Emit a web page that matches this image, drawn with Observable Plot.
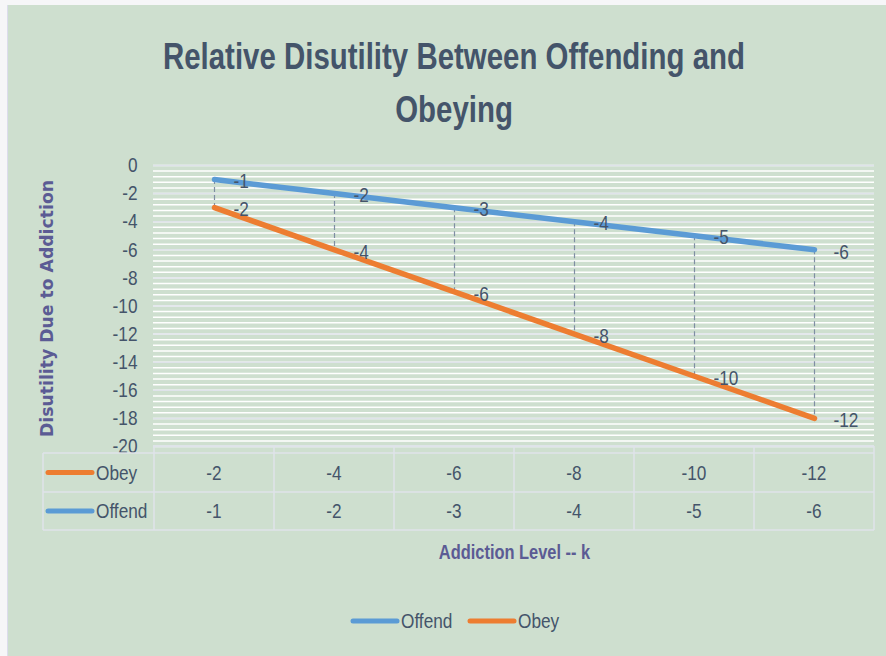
<!DOCTYPE html>
<html>
<head>
<meta charset="utf-8">
<script src="https://cdn.jsdelivr.net/npm/d3@7"></script>
<script src="https://cdn.jsdelivr.net/npm/@observablehq/plot@0.6"></script>
<style>
  html, body { margin: 0; padding: 0; background: #f6f6f8; width: 886px; height: 656px; overflow: hidden; }
  #bg { position: absolute; left: 7px; top: 5px; width: 879px; height: 651px; background: #cedfcf; border-left: 1px solid #dcdcec; box-sizing: border-box; }
  #title { position: absolute; left: 11px; top: 30px; width: 886px; text-align: center;
           font-family: "Liberation Sans Narrow", "Arial Narrow", "Liberation Sans", Arial, sans-serif;
           font-weight: bold; font-size: 37px; line-height: 53px; color: #44546a; }
  #title span { display: inline-block; white-space: nowrap; transform-origin: 50% 50%; }
  #chart { position: absolute; left: 0; top: 140px; }
</style>
</head>
<body>
<div id="bg"></div>
<div id="title"></div>
<div id="chart"></div>
<script>
const FONT = '"Liberation Sans", Arial, sans-serif';
const WIDEFONT = '"DejaVu Sans", Verdana, sans-serif';
const NARROW = 0.82;           // horizontal condensing of the Calibri-like text
const FS = 21;
const TEXT = "#44546a";
const AXISTITLE = "#5b5b94";
const GRIDLINE = "#dfe3ea";

// ---- data ----
const k = [1, 2, 3, 4, 5, 6];
const offend = [-1, -2, -3, -4, -5, -6];
const obey = [-2, -4, -6, -8, -10, -12];
const seriesNames = ["Offend", "Obey"];
const seriesColors = ["#5b9bd5", "#ed7d31"];
const yTicks = [0, -2, -4, -6, -8, -10, -12, -14, -16, -18, -20];
const yMinorStep = 0.4;
const titleLines = ["Relative Disutility Between Offending and", "Obeying"];
const yTitle = "Disutility Due to Addiction";
const xTitle = "Addiction Level -- k";

// ---- derived tables ----
const rows = k.map((c, i) => ({k: c, offend: offend[i], obey: obey[i]}));
const long = [
  ...k.map((c, i) => ({k: c, series: "Offend", value: offend[i]})),
  ...k.map((c, i) => ({k: c, series: "Obey", value: obey[i]}))
];
const yMinor = d3.range(0, Math.round(20 / yMinorStep) + 1).map(i => -i * yMinorStep);

// ---- title ----
const titleEl = document.getElementById("title");
titleLines.forEach((t, i) => {
  const s = document.createElement("span");
  s.textContent = t;
  titleEl.appendChild(s);
  if (i < titleLines.length - 1) titleEl.appendChild(document.createElement("br"));
});

// ---- table, axis titles and legend drawn from the x scale ----
function extras(index, scales, values, dim) {
  const x = scales.x, bw = x.bandwidth();
  const L = dim.marginLeft, R = dim.width - dim.marginRight;
  const yAx = dim.height - dim.marginBottom;
  const top = yAx + 7, mid = top + 39, bot = mid + 38;
  const x0 = 43;
  const g = d3.create("svg:g");
  const line = (x1, y1, x2, y2, c = GRIDLINE, w = 1.5) =>
    g.append("line").attr("x1", x1).attr("y1", y1).attr("x2", x2).attr("y2", y2)
      .attr("stroke", c).attr("stroke-width", w);
  line(L, yAx, R, yAx);
  [top, mid, bot].forEach(y => line(x0, y, R, y));
  line(x0, top, x0, bot);
  k.forEach(c => line(x(c), yAx, x(c), bot));
  line(R, yAx, R, bot);

  const tableRows = [
    {name: seriesNames[1], vals: obey, color: seriesColors[1], y: (top + mid) / 2},
    {name: seriesNames[0], vals: offend, color: seriesColors[0], y: (mid + bot) / 2}
  ];
  tableRows.forEach(r => {
    g.append("line").attr("x1", 48).attr("x2", 92).attr("y1", r.y).attr("y2", r.y)
      .attr("stroke", r.color).attr("stroke-width", 5).attr("stroke-linecap", "round");
    g.append("text").attr("x", 96).attr("y", r.y).attr("dy", "0.35em").attr("text-anchor", "start")
      .attr("fill", TEXT).attr("font-family", FONT).attr("font-size", FS).text(r.name);
    r.vals.forEach((v, i) => {
      g.append("text").attr("x", x(k[i]) + bw / 2).attr("y", r.y).attr("dy", "0.35em")
        .attr("text-anchor", "middle").attr("fill", TEXT).attr("font-family", FONT)
        .attr("font-size", FS).text(String(v));
    });
  });

  // x axis title
  g.append("text").attr("x", (L + R) / 2 + 1).attr("y", bot + 22).attr("dy", "0.35em")
    .attr("text-anchor", "middle").attr("font-family", FONT).attr("font-weight", "bold")
    .attr("font-size", 20).attr("fill", AXISTITLE).text(xTitle);

  // y axis title
  const yMid = (dim.marginTop + yAx) / 2 + 3;
  g.append("text").attr("class", "wide").attr("transform", `translate(47,${yMid}) rotate(-90)`).attr("dy", "0.35em")
    .attr("text-anchor", "middle").attr("font-family", WIDEFONT).attr("font-weight", "bold")
    .attr("font-size", 17).attr("fill", AXISTITLE).text(yTitle);

  // legend
  const ly = bot + 91;
  const items = [{name: seriesNames[0], color: seriesColors[0], x: 353}, {name: seriesNames[1], color: seriesColors[1], x: 470}];
  items.forEach(it => {
    g.append("line").attr("x1", it.x).attr("x2", it.x + 44).attr("y1", ly).attr("y2", ly)
      .attr("stroke", it.color).attr("stroke-width", 5).attr("stroke-linecap", "round");
    g.append("text").attr("x", it.x + 48).attr("y", ly).attr("dy", "0.35em").attr("text-anchor", "start")
      .attr("fill", TEXT).attr("font-family", FONT).attr("font-size", FS).text(it.name);
  });
  return g.node();
}

const plot = Plot.plot({
  width: 886,
  height: 516,
  marginTop: 25,
  marginBottom: 210,
  marginLeft: 153,
  marginRight: 12,
  style: {background: "transparent", fontFamily: FONT, fontSize: FS + "px", color: TEXT, overflow: "visible"},
  x: {type: "band", domain: k, padding: 0, axis: null},
  y: {domain: [-20, 0], ticks: yTicks, tickSize: 0, tickPadding: 16, label: null, tickFormat: d => String(d)},
  color: {domain: seriesNames, range: seriesColors},
  marks: [
    Plot.ruleY(yMinor, {stroke: "#ffffff", strokeWidth: 1.5}),
    Plot.ruleY(yTicks, {stroke: GRIDLINE, strokeWidth: 1.5}),
    Plot.ruleX(rows, {x: "k", y1: "offend", y2: d => d.offend + d.obey, stroke: "#7f8ea3", strokeWidth: 1.2, strokeDasharray: "5,3"}),
    Plot.lineY(long, Plot.stackY2({x: "k", y: "value", z: "series", stroke: "series", strokeWidth: 5.5, strokeLinecap: "round", order: seriesNames})),
    Plot.text(long, Plot.stackY2({x: "k", y: "value", z: "series", order: seriesNames, text: d => String(d.value), textAnchor: "start", dx: 19, dy: 2, fill: TEXT, fontSize: FS})),
    extras
  ]
});
document.getElementById("chart").appendChild(plot);

// condense the Calibri-like texts horizontally (real text kept)
plot.querySelectorAll("text").forEach(t => {
  const w = t.getComputedTextLength();
  if (!w) return;
  if (t.getAttribute("class") === "wide") {
    t.setAttribute("textLength", 257);
  } else {
    t.setAttribute("textLength", (w * NARROW).toFixed(2));
  }
  t.setAttribute("lengthAdjust", "spacingAndGlyphs");
});

// fit title width to the reference
const spans = titleEl.querySelectorAll("span");
const w0 = spans[0].getBoundingClientRect().width;
const sc = 582 / w0;
spans.forEach(s => s.style.transform = `scaleX(${sc})`);
</script>
</body>
</html>
